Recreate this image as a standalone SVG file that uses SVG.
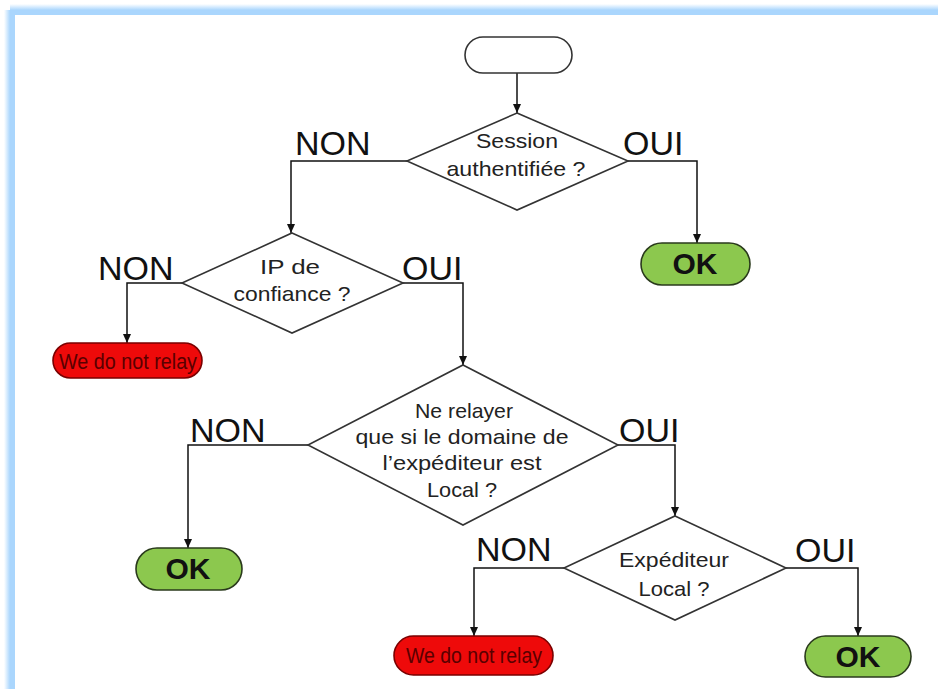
<svg xmlns="http://www.w3.org/2000/svg" width="938" height="689" viewBox="0 0 938 689">
<style>
.dia{fill:#fff;stroke:#333;stroke-width:1.6}
.term{fill:#fff;stroke:#333;stroke-width:1.6}
.ok{fill:#8cc84e;stroke:#2a3a1c;stroke-width:1.6}
.no{fill:#ee0a0a;stroke:#7a0000;stroke-width:1.6}
.q{font-family:"Liberation Sans",Arial,sans-serif;font-size:21px;fill:#222;text-anchor:middle}
.lab{font-family:"Liberation Sans",Arial,sans-serif;font-size:34px;fill:#111}
.okt{font-family:"Liberation Sans",Arial,sans-serif;font-size:30px;font-weight:bold;fill:#111;text-anchor:middle}
.not{font-family:"Liberation Sans",Arial,sans-serif;font-size:22px;fill:#5a0000;text-anchor:middle}
.con{fill:none;stroke:#111;stroke-width:1.5;marker-end:url(#ah)}
</style>
<defs>
<marker id="ah" markerWidth="10" markerHeight="10" refX="9" refY="5" orient="auto" markerUnits="userSpaceOnUse">
<path d="M0,1 L9,5 L0,9 Z" fill="#111"/>
</marker>
<linearGradient id="gl" x1="0" y1="0" x2="1" y2="0">
<stop offset="0" stop-color="#aad6fd" stop-opacity="0"/>
<stop offset="1" stop-color="#aad6fd"/>
</linearGradient>
<linearGradient id="gt" x1="0" y1="0" x2="0" y2="1">
<stop offset="0" stop-color="#aad6fd" stop-opacity="0"/>
<stop offset="1" stop-color="#aad6fd"/>
</linearGradient>
</defs>
<rect width="938" height="689" fill="#fff"/>
<g id="frame">
<rect x="4" y="10" width="6" height="679" fill="url(#gl)"/>
<rect x="10" y="4" width="928" height="6" fill="url(#gt)"/>
<rect x="10" y="10" width="5" height="679" fill="#aad6fd"/>
<rect x="10" y="10" width="928" height="5" fill="#aad6fd"/>
</g>
<g id="connectors">
<path class="con" d="M517,73 V113"/>
<path class="con" d="M407,161 H291 V233"/>
<path class="con" d="M628,161 H697 V243"/>
<path class="con" d="M182,283 H127 V343"/>
<path class="con" d="M403,283 H463 V365"/>
<path class="con" d="M308,445 H188 V548"/>
<path class="con" d="M618,445 H675 V516"/>
<path class="con" d="M564,568 H474 V636"/>
<path class="con" d="M786,568 H858 V636"/>
</g>
<g id="labels">
<text class="lab" x="295" y="155">NON</text>
<text class="lab" x="623" y="155">OUI</text>
<text class="lab" x="98" y="280">NON</text>
<text class="lab" x="402" y="280">OUI</text>
<text class="lab" x="190" y="442">NON</text>
<text class="lab" x="619" y="442">OUI</text>
<text class="lab" x="476" y="561">NON</text>
<text class="lab" x="795" y="562">OUI</text>
</g>
<g id="start">
<rect class="term" x="465" y="37" width="107" height="36" rx="18"/>
</g>
<g id="d1">
<polygon class="dia" points="517,113 628,161 517,210 407,161"/>
<text class="q" x="517" y="148" textLength="82" lengthAdjust="spacingAndGlyphs">Session</text>
<text class="q" x="516" y="176" textLength="139" lengthAdjust="spacingAndGlyphs">authentifiée ?</text>
</g>
<g id="ok1">
<rect class="ok" x="641" y="243" width="109" height="42" rx="21"/>
<text class="okt" x="695" y="274">OK</text>
</g>
<g id="d2">
<polygon class="dia" points="292,233 403,283 292,333 182,283"/>
<text class="q" x="290" y="274" textLength="60" lengthAdjust="spacingAndGlyphs">IP de</text>
<text class="q" x="292" y="301" textLength="117" lengthAdjust="spacingAndGlyphs">confiance ?</text>
</g>
<g id="relay1">
<rect class="no" x="53" y="343" width="149" height="35" rx="17.5"/>
<text class="not" x="128" y="369" textLength="138" lengthAdjust="spacingAndGlyphs">We do not relay</text>
</g>
<g id="d3">
<polygon class="dia" points="463,365 618,445 463,525 308,445"/>
<text class="q" x="464" y="418" textLength="98" lengthAdjust="spacingAndGlyphs">Ne relayer</text>
<text class="q" x="462" y="444" textLength="213" lengthAdjust="spacingAndGlyphs">que si le domaine de</text>
<text class="q" x="462" y="470" textLength="159" lengthAdjust="spacingAndGlyphs">l’expéditeur est</text>
<text class="q" x="462" y="497" textLength="70" lengthAdjust="spacingAndGlyphs">Local ?</text>
</g>
<g id="ok2">
<rect class="ok" x="136" y="548" width="106" height="42" rx="21"/>
<text class="okt" x="188" y="579">OK</text>
</g>
<g id="d4">
<polygon class="dia" points="675,516 786,568 675,620 564,568"/>
<text class="q" x="674" y="567" textLength="110" lengthAdjust="spacingAndGlyphs">Expéditeur</text>
<text class="q" x="674" y="596" textLength="71" lengthAdjust="spacingAndGlyphs">Local ?</text>
</g>
<g id="relay2">
<rect class="no" x="394" y="636" width="159" height="39" rx="19.5"/>
<text class="not" x="474" y="663" textLength="136" lengthAdjust="spacingAndGlyphs">We do not relay</text>
</g>
<g id="ok3">
<rect class="ok" x="805" y="636" width="106" height="41" rx="20.5"/>
<text class="okt" x="858" y="667">OK</text>
</g>
</svg>
